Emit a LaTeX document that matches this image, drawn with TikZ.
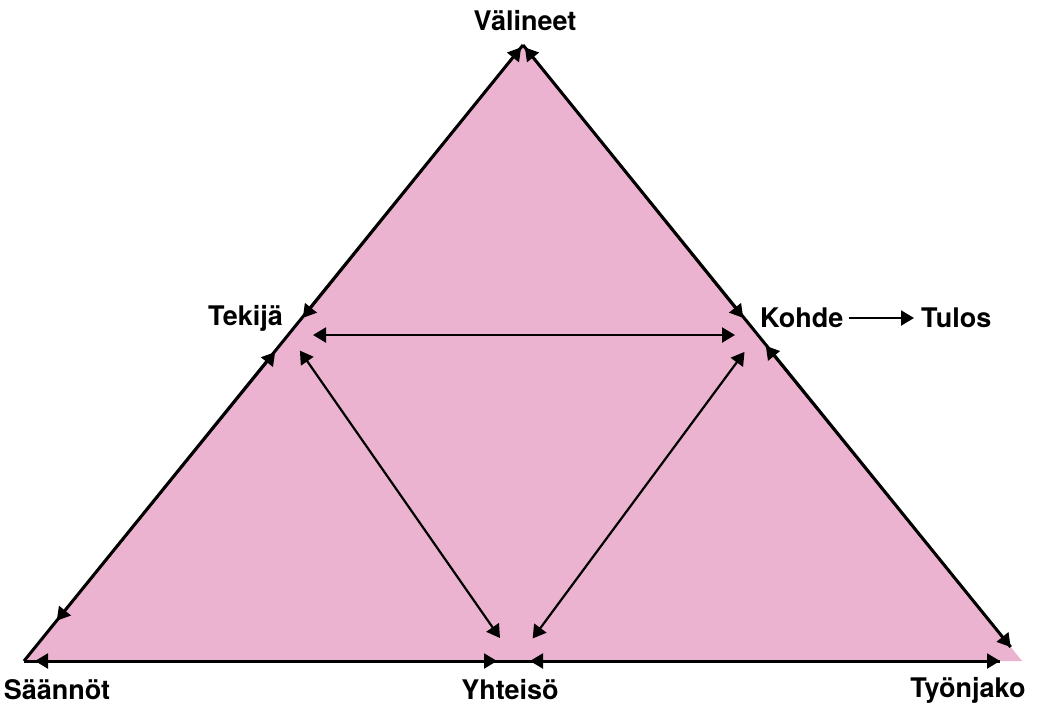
\documentclass[tikz,border=0pt]{standalone}
\usepackage{fontspec}
\setmainfont{TeX Gyre Heros}
\usepackage{xcolor}
\usetikzlibrary{arrows.meta}
\definecolor{triPink}{RGB}{235,179,207}

\begin{document}
\begin{tikzpicture}[
    x=1pt,y=-1pt,
    every node/.style={font=\bfseries\fontsize{27}{31}\selectfont,inner sep=3pt},
    edge/.style={line width=3pt},
    link/.style={line width=2.2pt,{Triangle[length=13pt,width=15pt]}-{Triangle[length=13pt,width=15pt]}}
  ]
  \useasboundingbox (0,0) rectangle (1046,707);
  \coordinate (apex)  at (523,45);
  \coordinate (lc)    at (24,661);
  \coordinate (rc)    at (1022,661);
  \coordinate (tek)   at (289,335);
  \coordinate (koh)   at (757,335);
  \coordinate (yht)   at (516,661);
  \fill[triPink] (lc) -- (apex) -- (rc) -- cycle;
  \draw[edge] (lc) -- (apex);
  \draw[edge,shorten >=18pt] (apex) -- (rc);
  \draw[edge,shorten >=22pt] (lc) -- (rc);
  % arrows along the edges
  \draw[link,shorten <=22pt,shorten >=3pt]  (tek) -- (apex);
  \draw[link,shorten <=22pt,shorten >=52pt] (tek) -- (lc);
  \draw[link,shorten <=22pt,shorten >=3pt]  (koh) -- (apex);
  \draw[link,shorten <=14pt,shorten >=18pt] (koh) -- (rc);
  \draw[link,shorten <=11pt,shorten >=19pt] (lc) -- (yht);
  \draw[link,shorten <=14pt,shorten >=22pt] (yht) -- (rc);
  % inner arrows
  \draw[link,shorten <=24pt,shorten >=22pt] (tek) -- (koh);
  \draw[link,shorten <=19pt,shorten >=28pt] (tek) -- (yht);
  \draw[link,shorten <=21pt,shorten >=28pt] (koh) -- (yht);
  % labels
  \node (valineet) at (525,21) {Välineet};
  \node[anchor=east] (tekija) at (286,318) {Tekijä};
  \node[anchor=west] (kohde) at (757,318) {Kohde};
  \node[anchor=west] (tulos) at (918,318) {Tulos};
  \node (saannot) at (57,690) {Säännöt};
  \node (yhteiso) at (510,690) {Yhteisö};
  \node (tyonjako) at (968,690) {Työnjako};
  \draw[line width=2.2pt,-{Triangle[length=13pt,width=15pt]},shorten <=3pt,shorten >=4pt] (kohde) -- (tulos);
\end{tikzpicture}
\end{document}
